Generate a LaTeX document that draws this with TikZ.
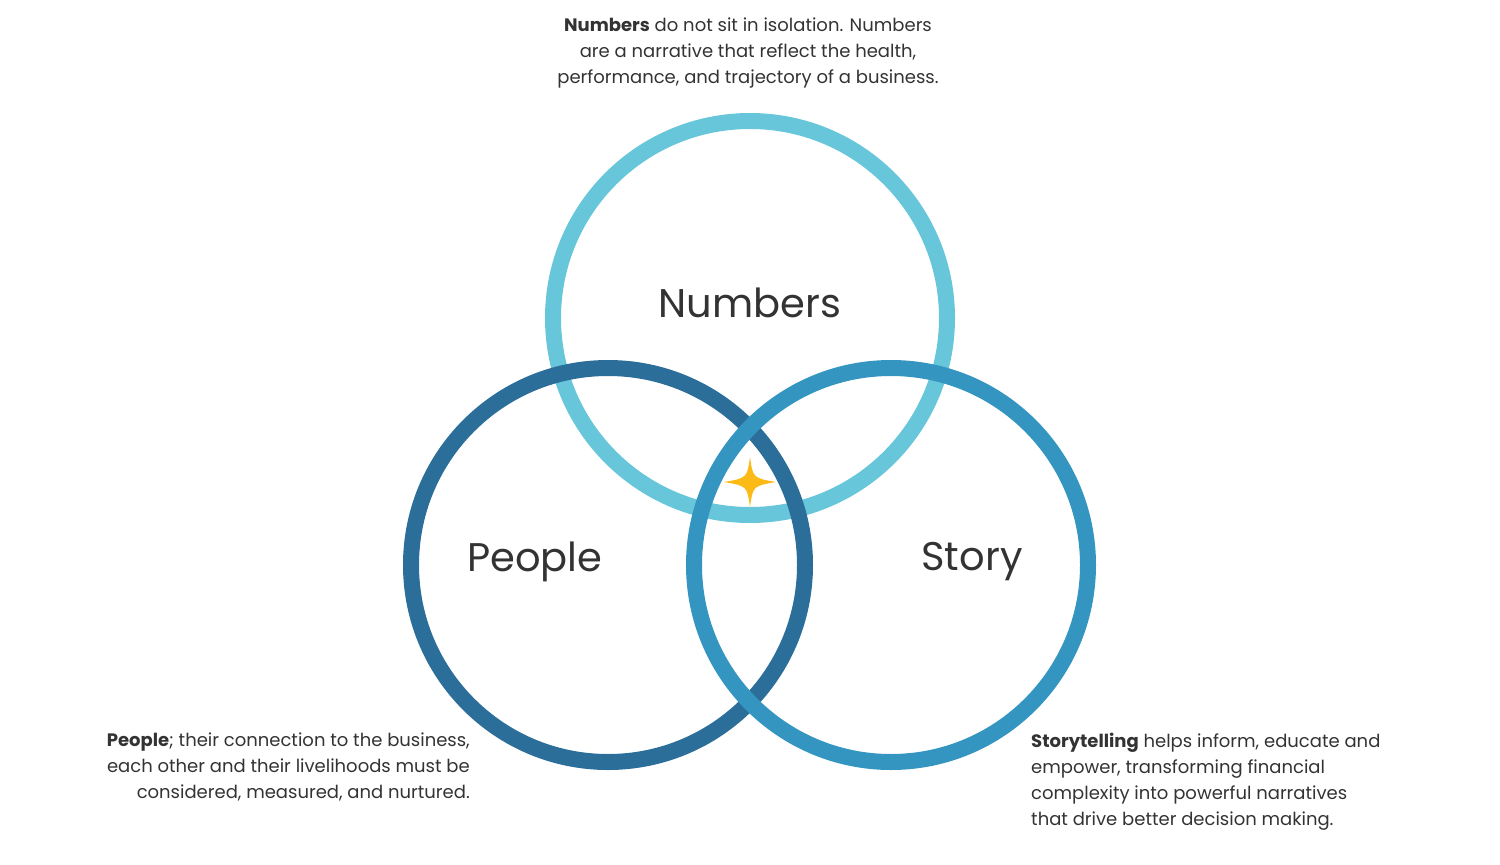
\documentclass[tikz,border=0pt]{standalone}
\usepackage{fontspec}
\setmainfont{Poppins}
\definecolor{cnum}{HTML}{67C6D9}
\definecolor{cpeo}{HTML}{2B6E9A}
\definecolor{csto}{HTML}{3496C0}
\definecolor{ctxt}{HTML}{333333}
\definecolor{cstar}{HTML}{FBBA16}
\begin{document}
\begin{tikzpicture}[x=1pt,y=-1pt,
  ring/.style={line width=16pt},
  big/.style={font=\fontsize{40}{48}\selectfont,text=ctxt,inner sep=0},
  small/.style={font=\fontsize{18}{26}\selectfont,text=ctxt,inner sep=0}]
\useasboundingbox (0,0) rectangle (1500,865);
\draw[ring,cnum] (750,318) circle[radius=197] coordinate (num);
\draw[ring,cpeo] (608,565) circle[radius=197] coordinate (peo);
\draw[ring,csto] (891,565) circle[radius=197] coordinate (sto);
\fill[cstar] (750,457) coordinate (star) .. controls (753,478) .. (776,482) .. controls (753,486) .. (750,507) .. controls (747,486) .. (724,482) .. controls (747,478) .. (750,457) -- cycle;
\node[big] (lnum) at (750,303) {Numbers};
\node[big] (lpeo) at (535,562) {People};
\node[big] (lsto) at (972,562) {Story};
\node[small,align=center] (tnum) at (748,53) {\textbf{Numbers} do not sit in isolation. Numbers\\are a narrative that reflect the health,\\performance, and trajectory of a business.};
\node[small,align=right,anchor=north east] (tpeo) at (470,733) {\textbf{People}; their connection to the business,\\each other and their livelihoods must be\\considered, measured, and nurtured.};
\node[small,align=left,anchor=north west] (tsto) at (1031,733) {\textbf{Storytelling} helps inform, educate and\\empower, transforming financial\\complexity into powerful narratives\\that drive better decision making.};
\end{tikzpicture}
\end{document}
